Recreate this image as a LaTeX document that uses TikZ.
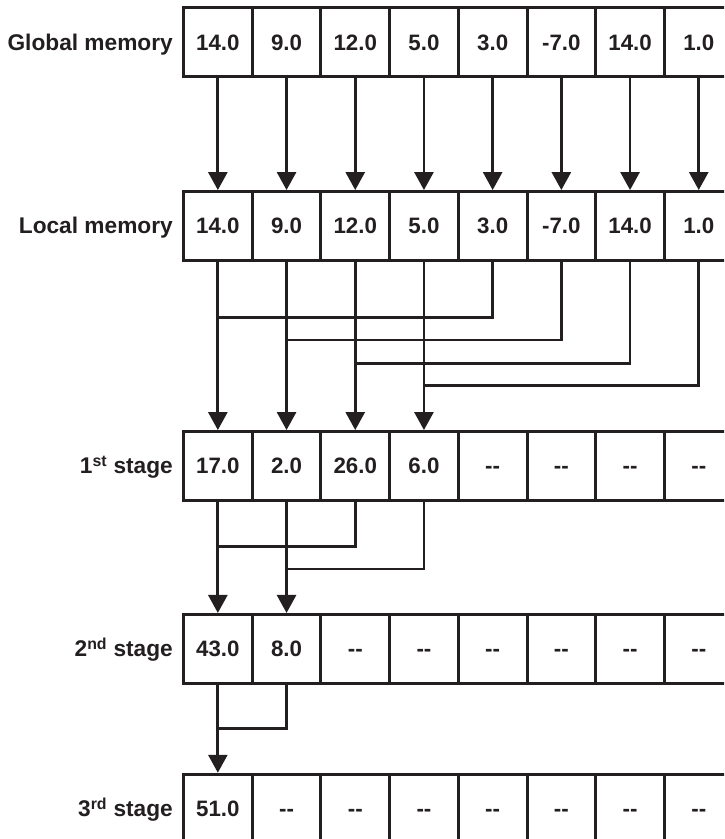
\documentclass[tikz,border=0pt]{standalone}
\usepackage{fontspec}
\setmainfont{Liberation Sans}
\usetikzlibrary{arrows.meta}
\definecolor{ink}{HTML}{231F20}
\begin{document}
\begin{tikzpicture}[x=1pt,y=-1pt,
  cell/.style={draw=ink, line width=3pt, minimum width=68.7pt, minimum height=68.7pt,
    inner sep=0pt, text height=16pt, text depth=0pt, text=ink,
    font=\fontsize{22.3}{26}\selectfont\bfseries},
  lbl/.style={anchor=base east, inner sep=0pt, text=ink, font=\fontsize{22.7}{26}\selectfont\bfseries},
  conn/.style={draw=ink, line width=2.8pt},
  arr/.style={conn, -{Triangle[width=19pt,length=18pt]}}]
\useasboundingbox (0,0) rectangle (724,839);
\clip (0,0) rectangle (724,839);
% rows
\def\xs{217.85}
\foreach \v [count=\k from 0] in {14.0,9.0,12.0,5.0,3.0,-7.0,14.0,1.0}
  \node[cell] (g\k) at (\xs+68.7*\k, 42.3) {\v};
\foreach \v [count=\k from 0] in {14.0,9.0,12.0,5.0,3.0,-7.0,14.0,1.0}
  \node[cell] (l\k) at (\xs+68.7*\k, 225.9) {\v};
\foreach \v [count=\k from 0] in {17.0,2.0,26.0,6.0,{-}{-},{-}{-},{-}{-},{-}{-}}
  \node[cell] (a\k) at (\xs+68.7*\k, 465.9) {\v};
\foreach \v [count=\k from 0] in {43.0,8.0,{-}{-},{-}{-},{-}{-},{-}{-},{-}{-},{-}{-}}
  \node[cell] (b\k) at (\xs+68.7*\k, 648.8) {\v};
\foreach \v [count=\k from 0] in {51.0,{-}{-},{-}{-},{-}{-},{-}{-},{-}{-},{-}{-},{-}{-}}
  \node[cell] (c\k) at (\xs+68.7*\k, 808.6) {\v};
% labels
\node[lbl] (tg) at (173, 50.3) {Global memory};
\node[lbl] (tl) at (173, 233.9) {Local memory};
\node[lbl] (ta) at (173, 473.9) {1\textsuperscript{st} stage};
\node[lbl] (tb) at (173, 656.8) {2\textsuperscript{nd} stage};
\node[lbl] (tc) at (173, 816.6) {3\textsuperscript{rd} stage};
% helper levels
\coordinate (h0) at (0,317.7);
\coordinate (h1) at (0,340.0);
\coordinate (h2) at (0,363.3);
\coordinate (h3) at (0,385.7);
\coordinate (k0) at (0,546.7);
\coordinate (k1) at (0,569.0);
\coordinate (q0) at (0,728.3);
% global -> local
\foreach \k in {0,...,7}
  \draw[arr] (g\k.south) -- (l\k.north);
% local -> 1st stage
\foreach \k/\j in {0/4,1/5,2/6,3/7}{
  \draw[arr] (l\k.south) -- (a\k.north);
  \draw[conn] (l\j.south) |- (l\k.south |- h\k);
}
% 1st -> 2nd
\draw[arr] (a0.south) -- (b0.north);
\draw[arr] (a1.south) -- (b1.north);
\draw[conn] (a2.south) |- (a0.south |- k0);
\draw[conn] (a3.south) |- (a1.south |- k1);
% 2nd -> 3rd
\draw[arr] (b0.south) -- (c0.north);
\draw[conn] (b1.south) |- (b0.south |- q0);
\end{tikzpicture}
\end{document}
